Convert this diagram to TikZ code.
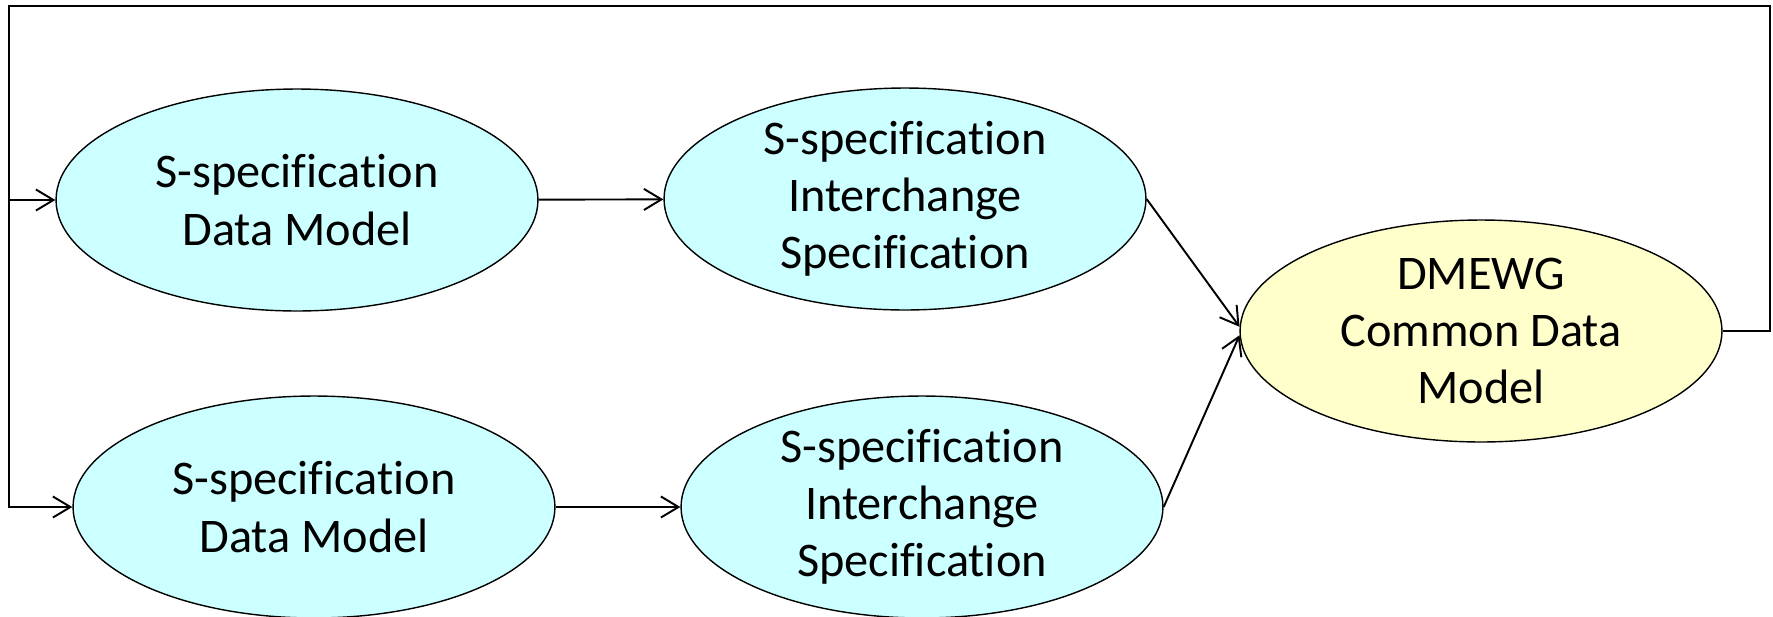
\documentclass[tikz,border=0pt]{standalone}
\usepackage{fontspec}
\setmainfont{Carlito}[Ligatures=NoCommon]
\usetikzlibrary{shapes.geometric}
\usetikzlibrary{arrows.meta}
\definecolor{specblue}{HTML}{CCFFFF}
\definecolor{cdmyellow}{HTML}{FFFFCC}

\begin{document}
\begin{tikzpicture}[x=0.02cm, y=-0.02cm,
 model/.style={ellipse, draw, line width=0.8pt, fill=specblue, align=center,
  minimum width=9.64cm, minimum height=4.44cm, inner xsep=0pt, inner ysep=-6pt,
  font=\fontsize{27.5}{32.5}\selectfont},
 flow/.style={line width=1.1pt, ->, >={Straight Barb[length=10pt,width=12pt]}}]
\useasboundingbox (0,0) rectangle (1773,616);
\node[model] (dmA) at (297,200) {S-specification\\Data Model};
\node[model] (isA) at (905,199) {S-specification\\Interchange\\Specification};
\node[model] (dmB) at (314,507) {S-specification\\Data Model};
\node[model] (isB) at (922,507) {S-specification\\Interchange\\Specification};
\node[model, fill=cdmyellow] (cdm) at (1481,331) {DMEWG\\Common Data\\Model};
\coordinate (tr) at (1770,6);
\coordinate (tl) at (9,6);
% feedback loop
\draw[flow] (cdm.east) -| (tr) -- (tl) |- (dmB.west);
\draw[flow] (tl |- dmA.west) -- (dmA.west);
\draw[flow] (dmA) -- (isA);
\draw[flow] (dmB) -- (isB);
\draw[flow] (isA.east) -- (cdm.179);
\draw[flow] (isB.east) -- (cdm.181);
\end{tikzpicture}
\end{document}
